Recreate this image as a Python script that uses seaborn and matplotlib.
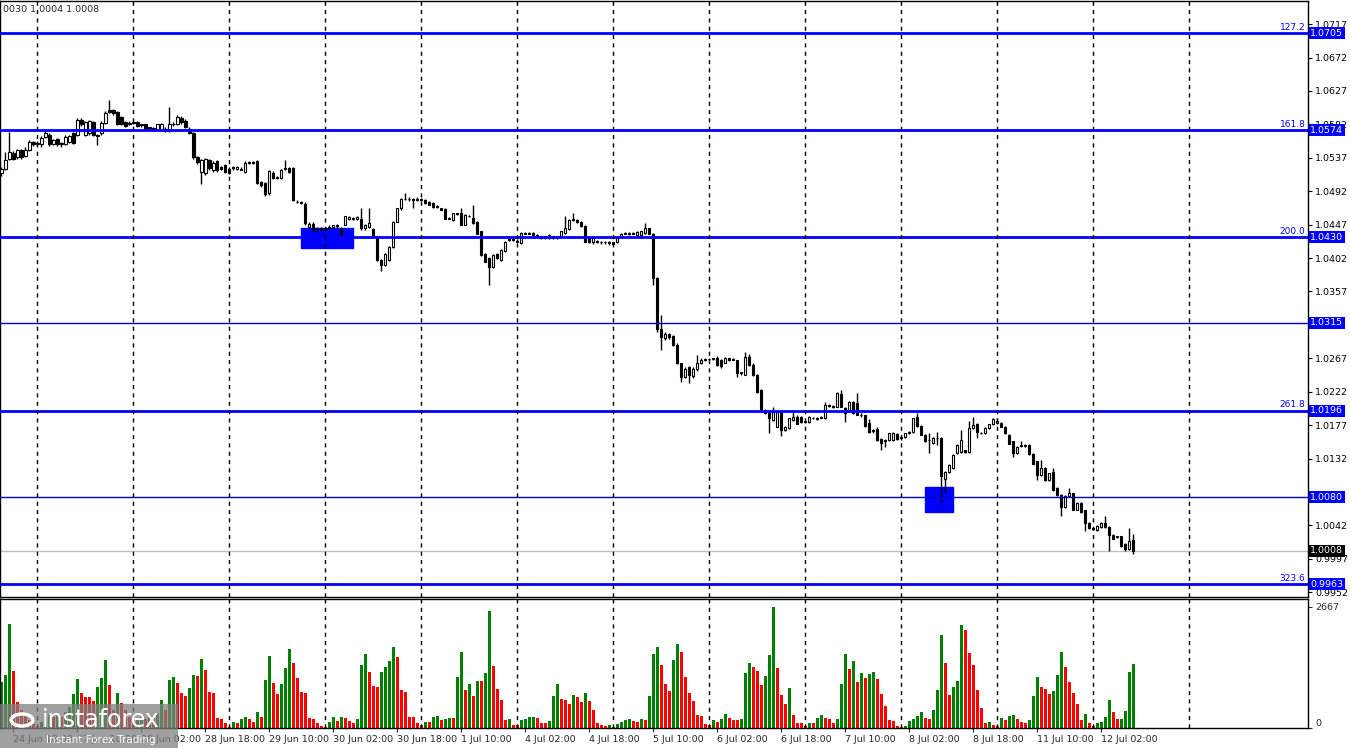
import numpy as np
import pandas as pd
import matplotlib
matplotlib.use("Agg")
import matplotlib.pyplot as plt
from matplotlib.patches import Rectangle, Circle
import seaborn as sns


# Hourly candles, prices in pips above 1.0000 (rows of 10 bars)
open_pips = [
    516, 522, 536, 543, 538, 547, 540, 548, 558, 555,
    555, 565, 567, 556, 562, 555, 556, 558, 570, 568,
    588, 568, 570, 585, 568, 570, 584, 601, 601, 599,
    592, 585, 583, 584, 585, 582, 582, 577, 577, 575,
    575, 576, 574, 582, 583, 590, 587, 576, 570, 538,
    518, 516, 534, 520, 532, 525, 527, 522, 523, 522,
    521, 518, 530, 531, 532, 504, 503, 489, 517, 510,
    510, 522, 523, 523, 478, 478, 475, 444, 448, 443,
    442, 441, 442, 444, 446, 442, 447, 454, 455, 454,
    455, 442, 444, 441, 429, 399, 393, 399, 417, 451,
    469, 482, 481, 482, 480, 482, 480, 478, 476, 471,
    469, 468, 455, 453, 462, 462, 447, 458, 456, 451,
    438, 408, 402, 390, 408, 399, 411, 426, 427, 425,
    422, 436, 435, 436, 433, 431, 429, 429, 431, 429,
    431, 436, 441, 453, 453, 451, 445, 429, 424, 425,
    424, 423, 424, 423, 424, 431, 435, 435, 436, 433,
    433, 436, 442, 435, 375, 307, 294, 300, 297, 285,
    260, 242, 255, 243, 252, 261, 265, 266, 266, 268,
    265, 261, 267, 265, 264, 247, 245, 269, 258, 244,
    224, 197, 193, 184, 175, 195, 170, 173, 184, 188,
    188, 181, 181, 186, 187, 187, 186, 204, 203, 202,
    219, 200, 196, 208, 207, 191, 190, 180, 170, 172,
    158, 155, 157, 157, 165, 159, 161, 167, 168, 188,
    176, 164, 157, 153, 160, 160, 105, 114, 119, 139,
    141, 143, 141, 173, 179, 167, 166, 173, 178, 180,
    180, 175, 164, 155, 139, 149, 150, 150, 138, 128,
    110, 119, 103, 114, 92, 83, 67, 82, 85, 63,
    72, 62, 45, 38, 36, 40, 45, 40, 29, 26,
    27, 17, 10, 22,
]

high_pips = [
    525, 545, 572, 546, 549, 549, 551, 561, 560, 559,
    566, 575, 570, 562, 563, 558, 567, 568, 572, 590,
    591, 587, 588, 587, 569, 586, 600, 615, 603, 600,
    593, 586, 586, 587, 587, 583, 583, 579, 578, 583,
    584, 578, 606, 585, 594, 593, 589, 578, 572, 540,
    536, 537, 536, 532, 534, 526, 529, 524, 526, 526,
    524, 532, 533, 532, 534, 506, 504, 521, 519, 512,
    522, 534, 525, 525, 480, 479, 477, 450, 450, 444,
    444, 443, 446, 447, 448, 444, 459, 459, 457, 458,
    469, 448, 469, 442, 430, 400, 409, 418, 452, 470,
    483, 489, 484, 483, 484, 483, 481, 479, 477, 473,
    470, 469, 457, 463, 463, 470, 461, 460, 474, 452,
    439, 409, 403, 407, 409, 414, 425, 428, 428, 427,
    437, 437, 437, 437, 434, 432, 432, 434, 432, 432,
    439, 458, 454, 462, 455, 452, 446, 430, 430, 426,
    425, 425, 425, 424, 430, 436, 437, 437, 437, 438,
    439, 449, 443, 436, 376, 325, 302, 301, 298, 287,
    261, 255, 256, 255, 271, 267, 267, 268, 268, 270,
    266, 269, 268, 267, 265, 249, 276, 273, 260, 246,
    225, 198, 194, 202, 196, 197, 176, 187, 197, 190,
    189, 183, 189, 188, 188, 189, 208, 205, 204, 222,
    224, 201, 209, 209, 220, 193, 191, 185, 172, 175,
    159, 158, 167, 168, 166, 162, 167, 169, 187, 193,
    177, 165, 166, 161, 168, 161, 115, 124, 138, 151,
    170, 144, 182, 188, 180, 168, 174, 179, 186, 186,
    181, 176, 165, 156, 149, 155, 151, 151, 139, 129,
    130, 120, 113, 119, 93, 84, 83, 92, 86, 73,
    73, 63, 46, 39, 42, 46, 55, 41, 30, 28,
    28, 18, 38, 30,
]

low_pips = [
    513, 521, 534, 534, 536, 536, 538, 546, 553, 553,
    551, 563, 553, 554, 553, 551, 554, 557, 556, 566,
    580, 566, 567, 566, 554, 568, 582, 597, 595, 581,
    581, 578, 581, 582, 579, 579, 575, 575, 574, 574,
    574, 572, 572, 580, 581, 583, 577, 569, 536, 529,
    502, 514, 521, 518, 518, 520, 516, 515, 521, 521,
    520, 516, 529, 528, 501, 497, 486, 487, 509, 508,
    509, 520, 516, 479, 476, 475, 447, 442, 438, 437,
    439, 439, 440, 443, 443, 433, 446, 453, 453, 453,
    440, 440, 443, 430, 398, 384, 391, 398, 416, 450,
    467, 480, 479, 469, 479, 479, 475, 473, 470, 470,
    466, 454, 454, 452, 460, 446, 446, 457, 448, 434,
    405, 396, 366, 388, 401, 398, 410, 425, 425, 423,
    421, 434, 434, 432, 430, 428, 428, 428, 428, 428,
    430, 435, 440, 452, 449, 444, 423, 422, 421, 422,
    421, 421, 420, 419, 422, 430, 434, 433, 434, 432,
    432, 435, 434, 366, 303, 278, 292, 293, 283, 259,
    235, 240, 234, 241, 250, 259, 263, 264, 265, 257,
    254, 260, 263, 264, 242, 245, 244, 257, 243, 220,
    194, 192, 166, 183, 174, 162, 169, 172, 183, 178,
    180, 180, 180, 185, 184, 186, 185, 202, 200, 201,
    201, 181, 195, 192, 190, 188, 174, 166, 166, 155,
    143, 148, 156, 156, 157, 157, 160, 165, 167, 175,
    163, 154, 139, 152, 150, 72, 85, 113, 118, 138,
    140, 140, 140, 172, 159, 165, 165, 172, 177, 179,
    174, 165, 151, 134, 138, 148, 148, 137, 124, 103,
    109, 102, 102, 88, 82, 54, 66, 81, 62, 62,
    59, 34, 37, 36, 35, 39, 39, 7, 23, 25,
    13, 7, 9, 4,
]

close_pips = [
    522, 534, 545, 536, 547, 538, 548, 558, 555, 557,
    564, 570, 555, 561, 555, 557, 565, 566, 557, 588,
    582, 585, 586, 568, 566, 584, 597, 599, 597, 583,
    583, 580, 584, 585, 580, 581, 576, 578, 576, 582,
    582, 573, 583, 583, 592, 585, 579, 571, 538, 531,
    534, 535, 523, 530, 520, 522, 518, 517, 524, 524,
    522, 530, 531, 530, 503, 500, 488, 519, 510, 511,
    520, 523, 518, 480, 477, 476, 449, 448, 440, 442,
    441, 442, 444, 446, 445, 435, 458, 457, 456, 457,
    442, 447, 449, 431, 399, 393, 408, 417, 451, 469,
    482, 481, 482, 480, 482, 480, 476, 474, 471, 472,
    467, 455, 456, 462, 461, 447, 460, 458, 449, 435,
    406, 397, 390, 406, 402, 413, 424, 427, 426, 424,
    436, 435, 436, 433, 431, 429, 431, 433, 429, 431,
    438, 442, 453, 454, 450, 445, 424, 423, 429, 424,
    423, 424, 422, 421, 429, 435, 436, 436, 435, 437,
    438, 442, 435, 375, 307, 295, 300, 295, 285, 260,
    242, 253, 244, 253, 260, 265, 266, 266, 267, 258,
    256, 268, 265, 266, 247, 248, 269, 258, 244, 222,
    195, 193, 186, 195, 194, 170, 175, 186, 188, 179,
    181, 182, 188, 187, 185, 188, 204, 203, 202, 220,
    202, 193, 208, 193, 191, 190, 176, 168, 169, 157,
    153, 157, 166, 167, 158, 161, 166, 168, 186, 176,
    164, 155, 157, 160, 159, 108, 114, 123, 137, 150,
    157, 141, 173, 177, 168, 166, 173, 178, 185, 182,
    175, 166, 152, 139, 148, 150, 149, 138, 125, 110,
    119, 103, 112, 89, 83, 67, 82, 86, 63, 72,
    60, 45, 38, 37, 41, 45, 40, 29, 24, 27,
    14, 10, 21, 8,
]

volumes = [
    1020, 1167, 2292, 1255, 579, 396, 285, 175, 87, 43,
    131, 263, 293, 234, 278, 234, 351, 469, 748, 1079,
    763, 682, 675, 594, 903, 1108, 1498, 947, 396, 770,
    542, 396, 248, 138, 175, 248, 204, 285, 234, 322,
    616, 396, 1057, 1123, 998, 770, 704, 881, 1167, 1145,
    1520, 1278, 792, 763, 219, 197, 109, 13, 131, 109,
    204, 241, 197, 131, 351, 241, 1057, 1586, 998, 748,
    969, 1322, 1741, 1432, 1101, 792, 770, 219, 197, 109,
    43, 21, 131, 241, 160, 248, 212, 153, 109, 197,
    1388, 1630, 1233, 925, 903, 1233, 1344, 1476, 1785, 1564,
    837, 792, 241, 241, 109, 65, 131, 131, 241, 263,
    175, 197, 219, 219, 1123, 1674, 837, 969, 704, 1035,
    1035, 1211, 2578, 1366, 859, 616, 175, 197, 65, 65,
    182, 197, 241, 248, 219, 109, 109, 153, 704, 969,
    638, 616, 528, 726, 682, 572, 770, 594, 396, 109,
    65, 43, 65, 21, 87, 131, 175, 197, 153, 131,
    197, 175, 704, 1630, 1785, 1388, 969, 814, 1498, 1851,
    1674, 1123, 770, 594, 285, 263, 87, 65, 175, 131,
    197, 307, 219, 175, 175, 197, 1211, 1432, 1344, 1255,
    947, 1145, 1608, 2667, 1322, 726, 528, 881, 285, 109,
    109, 43, 109, 109, 219, 285, 219, 197, 109, 197,
    969, 1630, 1300, 1476, 1013, 1211, 1101, 1200, 1233, 1079,
    748, 484, 175, 153, 43, 21, 43, 153, 197, 263,
    351, 219, 197, 400, 837, 2049, 1432, 726, 903, 1035,
    2270, 2160, 1652, 1388, 837, 440, 109, 131, 65, 43,
    219, 175, 263, 285, 197, 131, 109, 175, 704, 1123,
    903, 859, 748, 814, 1167, 1674, 1344, 1013, 770, 528,
    175, 307, 109, 43, 109, 138, 241, 616, 351, 197,
    204, 373, 1233, 1410,
]

first_bar = "2022-06-24 15:00"
last_grid_day = "2022-07-13"
header = "0030 1.0004 1.0008"

fib_levels = [1.0705, 1.0574, 1.0430, 1.0196, 0.9963]
fib_names = ["127.2", "161.8", "200.0", "261.8", "323.6"]
plain_levels = [1.0315, 1.0080]
bid_price = 1.0008

# price scale labels (the ones hidden by the level boxes are left out)
price_ticks = [0.9952, 0.9997, 1.0042, 1.0132, 1.0177, 1.0222, 1.0267,
               1.0357, 1.0402, 1.0447, 1.0492, 1.0537, 1.0582, 1.0627,
               1.0672, 1.0717]

# blue zones: first bar, last bar edge, low, high
zone_start = [75, 231]
zone_end = [88, 238]
zone_low = [1.0416, 1.0060]
zone_high = [1.0443, 1.0094]

vol_label = 2667


# Build arrays
o = 1 + np.array(open_pips) / 10000
h = 1 + np.array(high_pips) / 10000
l = 1 + np.array(low_pips) / 10000
c = 1 + np.array(close_pips) / 10000
n = len(c)
idx = np.arange(n)

dates = pd.date_range(first_bar, periods=24 * 25, freq="h")
dates = dates[dates.dayofweek < 5]
pos = np.arange(len(dates))
midnights = pos[(dates.hour == 0) & (dates <= pd.Timestamp(last_grid_day))]
label_pos = np.arange(3, n, 16)
labels = [f"{dates[p].day} {dates[p].strftime('%b %H:%M')}" for p in label_pos]

vol_df = pd.DataFrame({"bar": idx, "volume": volumes})
vol_df["dir"] = np.where(vol_df["volume"].diff().fillna(1) > 0, "up", "down")


sns.set_style("white")
plt.rcParams["font.family"] = ["DejaVu Sans"]

fig = plt.figure(figsize=(13.5, 7.5), dpi=100)
ax = fig.add_axes([0, 1 - 597 / 750, 1308 / 1350, 596 / 750])
axv = fig.add_axes([0, 1 - 728 / 750, 1308 / 1350, 129 / 750])

xmin, xmax = -0.33, 326.7

# Candles
ax.vlines(idx, l, h, color="black", linewidth=1, zorder=2)
up = c >= o
ax.bar(idx[up], (c - o)[up], bottom=o[up], width=0.6, color="white",
       edgecolor="black", linewidth=0.8, zorder=3)
ax.bar(idx[~up], (o - c)[~up], bottom=c[~up], width=0.6, color="black",
       edgecolor="black", linewidth=0.8, zorder=3)

# Zones
for s, e, lo, hi in zip(zone_start, zone_end, zone_low, zone_high):
    ax.add_patch(Rectangle((s - 0.1, lo), e - s, hi - lo, color="#0000FF",
                           zorder=1))

# Levels
ax.axhline(bid_price, color="#C0C0C0", linewidth=1, zorder=1)
for lvl in plain_levels:
    ax.axhline(lvl, color="#0000CC", linewidth=1, zorder=4)
for lvl, name in zip(fib_levels, fib_names):
    ax.axhline(lvl, color="#0000FF", linewidth=2, zorder=4)
    ax.text(0.998, lvl + 0.0002, name, transform=ax.get_yaxis_transform(),
            ha="right", va="bottom", color="#0000FF", fontsize=6.5)

# Price axis boxes
for lvl in fib_levels + plain_levels:
    ax.annotate(f"{lvl:.4f}", xy=(1, lvl), xycoords=("axes fraction", "data"),
                xytext=(1.5, 0), textcoords="offset points", ha="left",
                va="center", color="white", fontsize=6.8, zorder=10,
                annotation_clip=False,
                bbox=dict(boxstyle="square,pad=0.15", fc="#0000FF", ec="none"))
ax.annotate(f"{bid_price:.4f}", xy=(1, bid_price),
            xycoords=("axes fraction", "data"), xytext=(1.5, 0),
            textcoords="offset points", ha="left", va="center",
            color="white", fontsize=6.8, zorder=10, annotation_clip=False,
            bbox=dict(boxstyle="square,pad=0.15", fc="black", ec="none"))

# Volume bars
sns.barplot(data=vol_df, x="bar", y="volume", hue="dir",
            palette={"up": "#008000", "down": "#FF0000"}, native_scale=True,
            dodge=False, width=0.75, saturation=1, errorbar=None,
            linewidth=0, legend=False, ax=axv)

# Day separators
for a in (ax, axv):
    for m in midnights:
        if xmin < m < xmax:
            a.axvline(m, color="black", linewidth=1, linestyle=(0, (3, 3)),
                      zorder=5)
    a.set_xlim(xmin, xmax)
    for sp in a.spines.values():
        sp.set_color("black")
        sp.set_linewidth(1)

ax.set_ylim(0.99455, 1.07481)
ax.yaxis.tick_right()
ax.set_yticks(price_ticks)
ax.yaxis.set_major_formatter(plt.FuncFormatter(lambda v, p: f"{v:.4f}"))
ax.tick_params(axis="y", labelsize=6.8, length=3, pad=2, direction="out",
               right=True, colors="black")
ax.set_xticks([])
ax.set_xlabel("")
ax.set_ylabel("")

axv.set_ylim(0, 2843)
axv.yaxis.tick_right()
axv.set_yticks([0, vol_label])
axv.set_yticklabels(["0", str(vol_label)])
axv.tick_params(axis="y", labelsize=6.8, length=3, pad=2, right=True)
axv.get_yticklabels()[0].set_va("bottom")
axv.set_xticks(label_pos)
axv.set_xticklabels(labels, fontsize=6.8, ha="left")
axv.tick_params(axis="x", length=3, pad=2, bottom=True)
axv.set_xlabel("")
axv.set_ylabel("")

# Header text
fig.text(0.002, 1 - 10 / 750, header, fontsize=6.8, va="center")

# Watermark
fig.add_artist(Rectangle((0, 2 / 750), 178 / 1350, 44 / 750,
                         transform=fig.transFigure, fc="#808080",
                         ec="none", alpha=0.75, zorder=20))
fig.add_artist(Circle((22 / 1350, 1 - 720 / 750), 0.008,
                      transform=fig.transFigure, fc="none", ec="white",
                      linewidth=2.5, zorder=21))
fig.text(42 / 1350, 1 - 720 / 750, "instaforex", color="white", fontsize=17,
         va="center", zorder=22)
fig.text(46 / 1350, 1 - 740 / 750, "Instant Forex Trading", color="white",
         fontsize=7.5, va="center", zorder=22)

fig.savefig("out.png", dpi=100)
